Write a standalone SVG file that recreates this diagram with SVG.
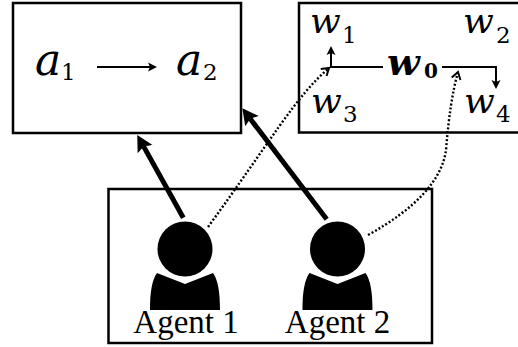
<svg xmlns="http://www.w3.org/2000/svg" width="518" height="347" viewBox="0 0 518 347">
<style>
.box{fill:#fff;stroke:#000;stroke-width:2.5}
.m{font-family:"DejaVu Serif",serif;font-style:italic;fill:#000}
.sub{font-family:"DejaVu Serif",serif;fill:#000}
.lbl{font-family:"Liberation Serif",serif;font-size:33px;fill:#000;text-anchor:middle}
.thin{fill:none;stroke:#000;stroke-width:2}
.thick{fill:none;stroke:#000;stroke-width:5}
.dot{fill:none;stroke:#000;stroke-width:2.4;stroke-dasharray:2 2}
</style>
<defs>
<marker id="big" markerUnits="userSpaceOnUse" markerWidth="20" markerHeight="20" viewBox="0 -10 20 20" refX="3" refY="0" orient="auto">
<path d="M0,-8.5 L16,0 L0,8.5 L3,0 Z" fill="#000"/>
</marker>
<marker id="sm" markerUnits="userSpaceOnUse" markerWidth="12" markerHeight="12" viewBox="0 -6 12 12" refX="2" refY="0" orient="auto">
<path d="M0,-4.5 L9,0 L0,4.5 L2,0 Z" fill="#000"/>
</marker>
<marker id="open" markerUnits="userSpaceOnUse" markerWidth="12" markerHeight="12" viewBox="-10 -6 12 12" refX="0" refY="0" orient="auto">
<path d="M-7,-4.5 L0,0 L-7,4.5" fill="none" stroke="#000" stroke-width="2"/>
</marker>
</defs>

<g id="actions">
<rect class="box" x="13" y="3" width="228" height="130"/>
<text class="m" x="35" y="75" font-size="44">a</text>
<text class="sub" x="61" y="80" font-size="23">1</text>
<text class="m" x="176" y="75" font-size="44">a</text>
<text class="sub" x="203" y="80" font-size="23">2</text>
<line class="thin" x1="97" y1="67" x2="150" y2="67" marker-end="url(#sm)"/>
</g>

<g id="worlds">
<rect class="box" x="299" y="3" width="240" height="129.5"/>
<text class="m" x="310" y="33" font-size="36">w</text>
<text class="sub" x="342" y="43" font-size="23">1</text>
<text class="m" x="463" y="33" font-size="36">w</text>
<text class="sub" x="496" y="43" font-size="23">2</text>
<text class="m" x="311" y="113" font-size="36">w</text>
<text class="sub" x="343" y="121.5" font-size="23">3</text>
<text class="m" x="464" y="113" font-size="36">w</text>
<text class="sub" x="496" y="121.5" font-size="23">4</text>
<text class="m" x="387" y="75" font-size="38" font-weight="bold">w</text>
<text class="sub" x="424" y="78" font-size="20" font-weight="bold">0</text>
<polyline class="thin" points="383,67 331,67 331,53" marker-end="url(#sm)"/>
<polyline class="thin" points="442,67 496,67 496,82" marker-end="url(#sm)"/>
</g>

<g id="agents">
<rect class="box" x="108.5" y="189" width="323.5" height="154"/>
</g>

<g id="agent1">
<circle cx="185" cy="249" r="27.5" fill="#000"/>
<path d="M157,273 L185,284 L213,273 C218,280 220,292 220,310 L150,310 C150,292 152,280 157,273 Z" fill="#000"/>
<text class="lbl" x="186" y="333">Agent 1</text>
</g>

<g id="agent2">
<circle cx="337.5" cy="249" r="27.5" fill="#000"/>
<path d="M309.5,273 L337.5,284 L365.5,273 C370.5,280 372.5,292 372.5,310 L302.5,310 C302.5,292 304.5,280 309.5,273 Z" fill="#000"/>
<text class="lbl" x="337.5" y="333">Agent 2</text>
</g>

<g id="connectors">
<line class="thick" x1="183.3" y1="217.7" x2="143.6" y2="146.4" marker-end="url(#big)"/>
<line class="thick" x1="326.7" y1="219.3" x2="250.2" y2="118.7" marker-end="url(#big)"/>
<path class="dot" d="M208,227 C270,142 296,96 329,68" marker-end="url(#open)"/>
<path class="dot" d="M368,235 Q440,195 446,150 Q450,100 458,72" marker-end="url(#open)"/>
</g>
</svg>
